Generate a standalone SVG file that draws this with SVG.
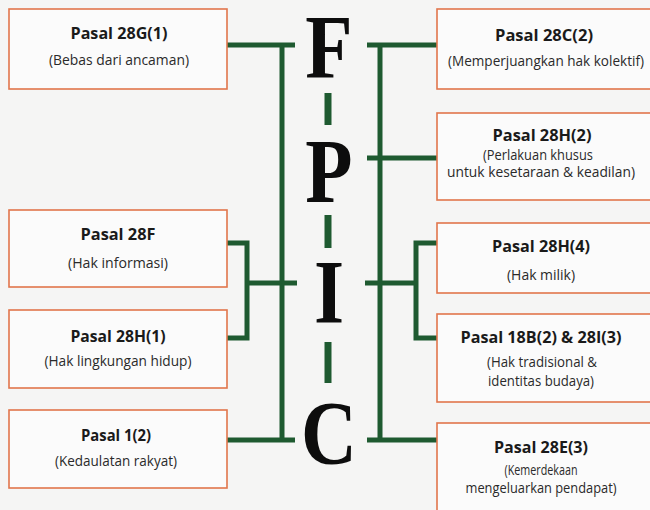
<svg xmlns="http://www.w3.org/2000/svg" width="650" height="510" viewBox="0 0 650 510">
<style>
.box{fill:#fbfbfb;stroke:#e2764c;stroke-width:1.6}
.t{font-family:"Open Sans","Noto Sans","Liberation Sans",sans-serif;font-weight:700;font-size:16.5px;fill:#1a1a1a;text-anchor:middle}
.s{font-family:"Open Sans","Noto Sans","Liberation Sans",sans-serif;font-size:14.5px;fill:#2a2a2a;text-anchor:middle}
.big{font-family:"Liberation Serif","Times New Roman",serif;font-weight:700;font-size:90px;fill:#0d0d0d;text-anchor:middle}
.ln{fill:none;stroke:#1e5a30;stroke-width:5}
.dash{stroke:#1e5a30;stroke-width:7}
</style>
<rect width="650" height="510" fill="#f5f5f4"/>
<g id="connectors">
<path class="ln" d="M227,45 H295 M282,45 V440 M227,440 H295 M247,283 H297"/>
<path class="ln" d="M226,243 H247 V338 H226"/>
<path class="ln" d="M367,45 H437 M380,45 V440 M367,440 H437 M367,158 H437 M365,283 H416"/>
<path class="ln" d="M437,243 H416 V338 H437"/>
</g>
<g id="fpic">
<g transform="translate(329,0) scale(0.86,1)">
<text class="big" x="0" y="78">F</text>
<text class="big" x="0" y="202">P</text>
<text class="big" x="0" y="323">I</text>
<text class="big" x="0" y="464">C</text>
</g>
<line class="dash" x1="328" y1="93" x2="328" y2="125"/>
<line class="dash" x1="328" y1="215" x2="328" y2="248"/>
<line class="dash" x1="328" y1="342" x2="328" y2="383"/>
</g>
<g id="n28G1">
<rect class="box" x="9" y="9" width="218" height="80"/>
<text class="t" x="119" y="39" textLength="97" lengthAdjust="spacingAndGlyphs">Pasal 28G(1)</text>
<text class="s" x="119" y="65" textLength="140" lengthAdjust="spacingAndGlyphs">(Bebas dari ancaman)</text>
</g>
<g id="n28F">
<rect class="box" x="9" y="210" width="218" height="77"/>
<text class="t" x="118" y="240" textLength="75" lengthAdjust="spacingAndGlyphs">Pasal 28F</text>
<text class="s" x="118" y="268" textLength="100" lengthAdjust="spacingAndGlyphs">(Hak informasi)</text>
</g>
<g id="n28H1">
<rect class="box" x="9" y="310" width="218" height="78"/>
<text class="t" x="118" y="342" textLength="95" lengthAdjust="spacingAndGlyphs">Pasal 28H(1)</text>
<text class="s" x="118" y="366" textLength="147" lengthAdjust="spacingAndGlyphs">(Hak lingkungan hidup)</text>
</g>
<g id="n1_2">
<rect class="box" x="9" y="410" width="218" height="78"/>
<text class="t" x="116" y="441" textLength="70" lengthAdjust="spacingAndGlyphs">Pasal 1(2)</text>
<text class="s" x="116" y="466" textLength="122" lengthAdjust="spacingAndGlyphs">(Kedaulatan rakyat)</text>
</g>
<g id="n28C2">
<rect class="box" x="437" y="9" width="220" height="80"/>
<text class="t" x="544" y="41" textLength="98" lengthAdjust="spacingAndGlyphs">Pasal 28C(2)</text>
<text class="s" x="546" y="66" textLength="196" lengthAdjust="spacingAndGlyphs">(Memperjuangkan hak kolektif)</text>
</g>
<g id="n28H2">
<rect class="box" x="437" y="113" width="220" height="87"/>
<text class="t" x="542" y="141" textLength="99" lengthAdjust="spacingAndGlyphs">Pasal 28H(2)</text>
<text class="s" x="538" y="160" font-size="14" textLength="110" lengthAdjust="spacingAndGlyphs">(Perlakuan khusus</text>
<text class="s" x="541" y="177" font-size="14" textLength="188" lengthAdjust="spacingAndGlyphs">untuk kesetaraan &amp; keadilan)</text>
</g>
<g id="n28H4">
<rect class="box" x="437" y="223" width="220" height="70"/>
<text class="t" x="541" y="252" textLength="98" lengthAdjust="spacingAndGlyphs">Pasal 28H(4)</text>
<text class="s" x="541" y="280" textLength="68" lengthAdjust="spacingAndGlyphs">(Hak milik)</text>
</g>
<g id="n18B2_28I3">
<rect class="box" x="437" y="314" width="220" height="88"/>
<text class="t" x="541" y="343" textLength="161" lengthAdjust="spacingAndGlyphs">Pasal 18B(2) &amp; 28I(3)</text>
<text class="s" x="542" y="367" textLength="110" lengthAdjust="spacingAndGlyphs">(Hak tradisional &amp;</text>
<text class="s" x="541" y="386" textLength="106" lengthAdjust="spacingAndGlyphs">identitas budaya)</text>
</g>
<g id="n28E3">
<rect class="box" x="437" y="423" width="220" height="100"/>
<text class="t" x="541" y="453" textLength="94" lengthAdjust="spacingAndGlyphs">Pasal 28E(3)</text>
<text class="s" x="541" y="475" textLength="73" lengthAdjust="spacingAndGlyphs">(Kemerdekaan</text>
<text class="s" x="541" y="493" textLength="151" lengthAdjust="spacingAndGlyphs">mengeluarkan pendapat)</text>
</g>
</svg>
